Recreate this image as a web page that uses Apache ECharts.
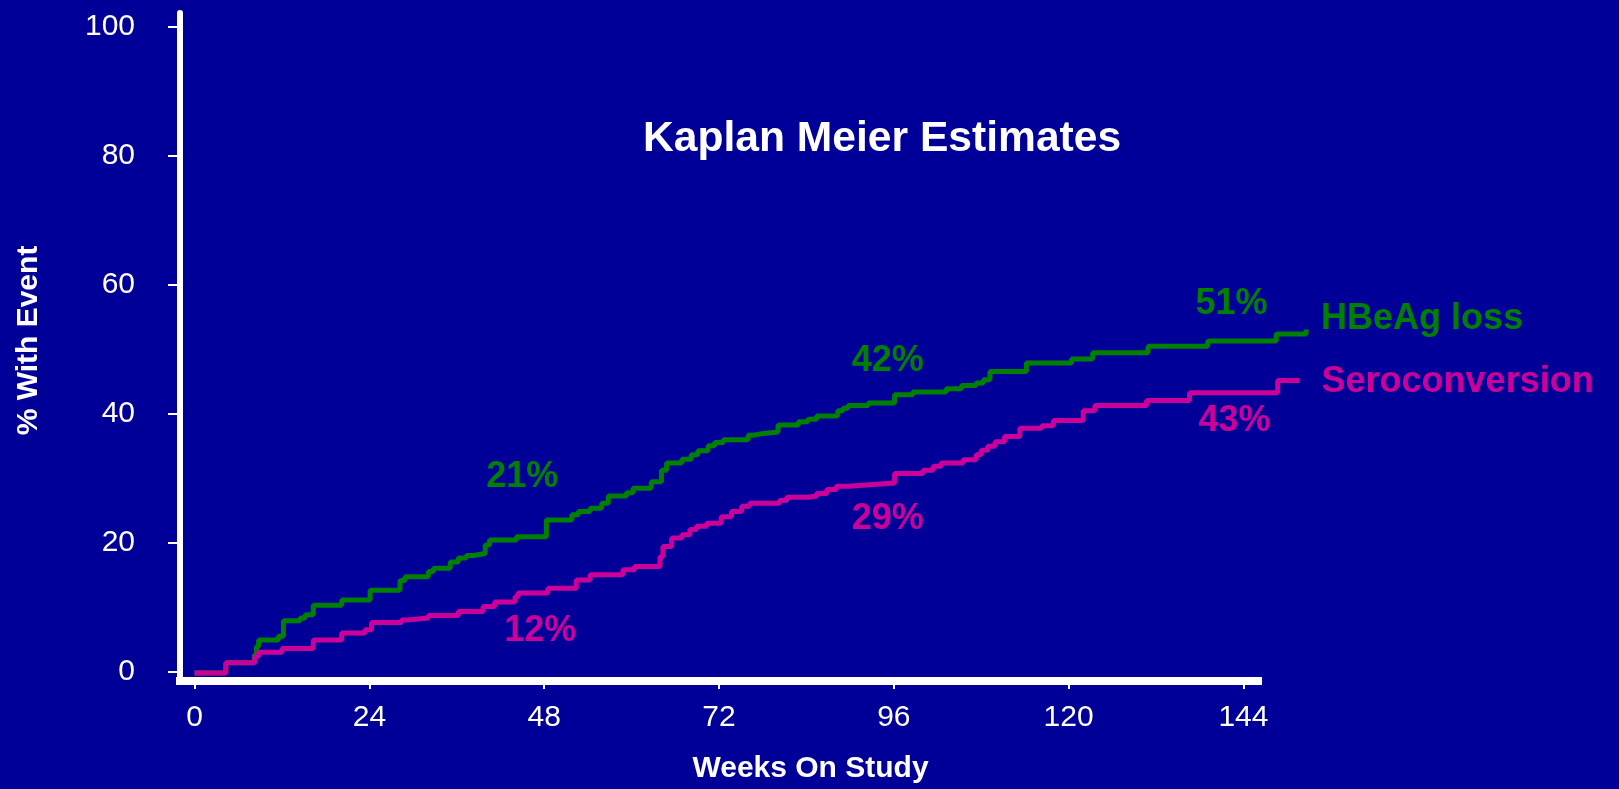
<!DOCTYPE html>
<html>
<head>
<meta charset="utf-8">
<title>Kaplan Meier Estimates</title>
<script src="https://cdn.jsdelivr.net/npm/echarts@6/dist/echarts.min.js"></script>
<style>
  html, body { margin: 0; padding: 0; background: #000099; }
  #chart { width: 1619px; height: 789px; }
</style>
</head>
<body>
<div id="chart"></div>
<script>
// Axis ticks
const weekTicks = [0, 24, 48, 72, 96, 120, 144];
const percentTicks = [0, 20, 40, 60, 80, 100];

// HBeAg loss: cumulative % with event, value after each step (week of step)
const hbeagWeeks = [0, 4.3, 8.2, 8.5, 8.8, 11.5, 12.2, 14.5, 15.2, 16.3, 20.2, 24.1, 28.2, 28.9,
  32.1, 32.8, 35.1, 36.2, 37.3, 38.3, 39.9, 40.5, 44.2, 48.3, 51.8, 52.7, 54.3, 55.9, 56.8, 59.3,
  60.2, 62.7, 64.1, 64.8, 66.9, 68.2, 69.1, 70.5, 71.4, 72.6, 76.0, 76.7, 78.1, 80.1, 82.9, 84.2,
  85.4, 88.3, 89.0, 89.7, 92.5, 96.1, 98.6, 103.2, 105.3, 107.3, 108.3, 109.2, 114.2, 120.4,
  123.3, 130.9, 139.1, 148.5, 152.6];
const hbeagPct = [0, 1.6, 2.8, 4.1, 5.1, 5.7, 8.1, 8.5, 9.0, 10.5, 11.3, 12.8, 14.3, 14.9,
  15.7, 16.2, 17.2, 17.8, 18.2, 18.5, 19.8, 20.6, 21.1, 23.7, 24.5, 25.0, 25.5, 26.3, 27.4, 27.9,
  28.6, 29.6, 31.4, 32.5, 33.1, 33.8, 34.4, 35.2, 35.7, 36.1, 36.8, 37.1, 37.3, 38.4, 38.9, 39.3,
  39.8, 40.6, 41.0, 41.4, 41.8, 43.1, 43.5, 44.0, 44.5, 44.9, 45.4, 46.7, 48.0, 48.6,
  49.6, 50.6, 51.4, 52.5, 53.2];

// Seroconversion: cumulative % with event, value after each step (week of step)
const seroWeeks = [0, 4.3, 8.3, 8.8, 12.0, 16.3, 20.2, 23.4, 24.3, 28.4, 29.1, 32.1, 36.2, 39.6,
  41.2, 44.0, 44.4, 48.5, 52.4, 54.3, 58.8, 60.4, 63.9, 64.3, 65.5, 66.9, 68.0, 68.9, 70.3, 72.3,
  73.7, 75.1, 76.2, 80.3, 81.3, 84.2, 85.4, 86.8, 88.1, 89.7, 92.2, 96.1, 100.0, 101.4, 102.5,
  105.5, 107.3, 108.0, 108.9, 109.9, 111.2, 113.3, 116.3, 117.9, 122.0, 123.6, 130.7, 136.6,
  148.7, 151.7];
const seroPct = [0, 1.6, 2.6, 3.2, 3.8, 5.1, 6.2, 6.7, 7.8, 8.2, 8.5, 8.9, 9.5, 10.3,
  11.0, 11.8, 12.4, 13.1, 14.4, 15.2, 16.0, 16.5, 18.0, 19.6, 20.9, 21.4, 22.2, 22.7, 23.2, 24.2,
  25.0, 25.8, 26.3, 26.7, 27.2, 27.4, 27.8, 28.4, 28.9, 29.1, 29.4, 30.9, 31.4, 32.0, 32.5,
  33.0, 33.8, 34.5, 35.1, 35.8, 36.6, 37.9, 38.3, 39.1, 40.6, 41.4, 42.2, 43.4,
  45.3, 45.3];

// Weeks at which the estimate is annotated
const markedWeeks = [48, 96, 144];

const GREEN = '#008000';
const PINK = '#CC0099';
const FONT = '"Liberation Sans", Arial, Helvetica, sans-serif';

// Shared scale: the visible axes span weeks -2..146, the curves run on to week ~153
const X_MIN = -2, X_AXIS_MAX = 146, X_PLOT_MAX = 154;
const Y_MIN = -1.4, Y_MAX = 102.2;
const GRID_LEFT = 180, GRID_TOP = 13, GRID_BOTTOM = 107;
const PX_PER_WEEK = 7.284;

function pairs(xs, ys) {
  return xs.map((x, i) => [x, ys[i]]);
}

// Step value in effect at week t
function valueAt(weeks, pct, t) {
  let v = pct[0];
  for (let i = 0; i < weeks.length; i++) {
    if (weeks[i] <= t) v = pct[i]; else break;
  }
  return v;
}

// Pixel offsets of the annotation text from the curve point
const hbeagLabelOffsets = [[-22, -60], [-6, -42], [-12, -37]];
const seroLabelOffsets = [[-4, 38], [-6, 36], [-9, 28]];

function annotationSeries(weeks, pct, offsets, color, z) {
  return {
    type: 'scatter',
    xAxisIndex: 1,
    yAxisIndex: 1,
    symbolSize: 0,
    z: z,
    silent: true,
    itemStyle: { color: 'rgba(0,0,0,0)', opacity: 1 },
    data: markedWeeks.map((w, i) => {
      const v = valueAt(weeks, pct, w);
      return {
        value: [w, v],
        label: {
          show: true,
          position: 'inside',
          offset: offsets[i],
          formatter: Math.round(v) + '%',
          color: color,
          opacity: 1,
          textBorderWidth: 0,
          fontSize: 36,
          fontWeight: 'bold',
          fontFamily: FONT
        }
      };
    })
  };
}

const chart = echarts.init(document.getElementById('chart'), null, { renderer: 'canvas' });

const plotWidth = PX_PER_WEEK * (X_PLOT_MAX - X_MIN);
const axisWidth = PX_PER_WEEK * (X_AXIS_MAX - X_MIN);

chart.setOption({
  animation: false,
  backgroundColor: '#000099',
  textStyle: { fontFamily: FONT },
  title: {
    text: 'Kaplan Meier Estimates',
    left: 643,
    top: 118,
    padding: 0,
    textStyle: { color: '#ffffff', fontSize: 42.6, fontWeight: 'bold', fontFamily: FONT }
  },
  grid: [
    { left: GRID_LEFT, width: axisWidth, top: GRID_TOP, bottom: GRID_BOTTOM, containLabel: false },
    { left: GRID_LEFT, width: plotWidth, top: GRID_TOP, bottom: GRID_BOTTOM, containLabel: false }
  ],
  xAxis: [
    {
      type: 'value',
      gridIndex: 0,
      min: X_MIN,
      max: X_AXIS_MAX,
      name: 'Weeks On Study',
      nameLocation: 'middle',
      nameGap: 73,
      nameTextStyle: {
        color: '#ffffff', fontSize: 30, fontWeight: 'bold', fontFamily: FONT,
        padding: [0, 0, 0, 183]
      },
      axisLine: { show: true, onZero: false, lineStyle: { color: '#ffffff', width: 8, cap: 'square' } },
      axisTick: { show: true, inside: false, length: 8, customValues: weekTicks, lineStyle: { color: '#ffffff', width: 2 } },
      axisLabel: { show: true, customValues: weekTicks, color: '#ffffff', fontSize: 30, margin: 22, fontFamily: FONT },
      splitLine: { show: false }
    },
    {
      type: 'value',
      gridIndex: 1,
      min: X_MIN,
      max: X_PLOT_MAX,
      show: false,
      splitLine: { show: false }
    }
  ],
  yAxis: [
    {
      type: 'value',
      gridIndex: 0,
      min: Y_MIN,
      max: Y_MAX,
      name: '% With Event',
      nameLocation: 'middle',
      nameRotate: 90,
      nameGap: 136,
      nameTextStyle: {
        color: '#ffffff', fontSize: 30, fontWeight: 'bold', fontFamily: FONT,
        padding: [0, 0, 0, 13]
      },
      axisLine: { show: true, onZero: false, lineStyle: { color: '#ffffff', width: 6 } },
      axisTick: { show: true, inside: false, length: 12, customValues: percentTicks, lineStyle: { color: '#ffffff', width: 2 } },
      axisLabel: { show: true, customValues: percentTicks, color: '#ffffff', fontSize: 30, margin: 45, fontFamily: FONT },
      splitLine: { show: false }
    },
    {
      type: 'value',
      gridIndex: 1,
      min: Y_MIN,
      max: Y_MAX,
      show: false,
      splitLine: { show: false }
    }
  ],
  series: [
    {
      name: 'HBeAg loss',
      type: 'line',
      xAxisIndex: 1,
      yAxisIndex: 1,
      step: 'end',
      symbol: 'none',
      z: 3,
      data: pairs(hbeagWeeks, hbeagPct),
      lineStyle: { color: GREEN, width: 5 },
      endLabel: {
        show: true,
        formatter: '{a}',
        distance: 15,
        offset: [0, -10],
        color: GREEN,
        fontSize: 36,
        fontWeight: 'bold',
        fontFamily: FONT
      }
    },
    {
      name: 'Seroconversion',
      type: 'line',
      xAxisIndex: 1,
      yAxisIndex: 1,
      step: 'end',
      symbol: 'none',
      z: 4,
      data: pairs(seroWeeks, seroPct),
      lineStyle: { color: PINK, width: 5 },
      endLabel: {
        show: true,
        formatter: '{a}',
        distance: 22,
        offset: [0, 2],
        color: PINK,
        fontSize: 36,
        fontWeight: 'bold',
        fontFamily: FONT
      }
    },
    annotationSeries(hbeagWeeks, hbeagPct, hbeagLabelOffsets, GREEN, 5),
    annotationSeries(seroWeeks, seroPct, seroLabelOffsets, PINK, 5)
  ]
});
</script>
</body>
</html>
